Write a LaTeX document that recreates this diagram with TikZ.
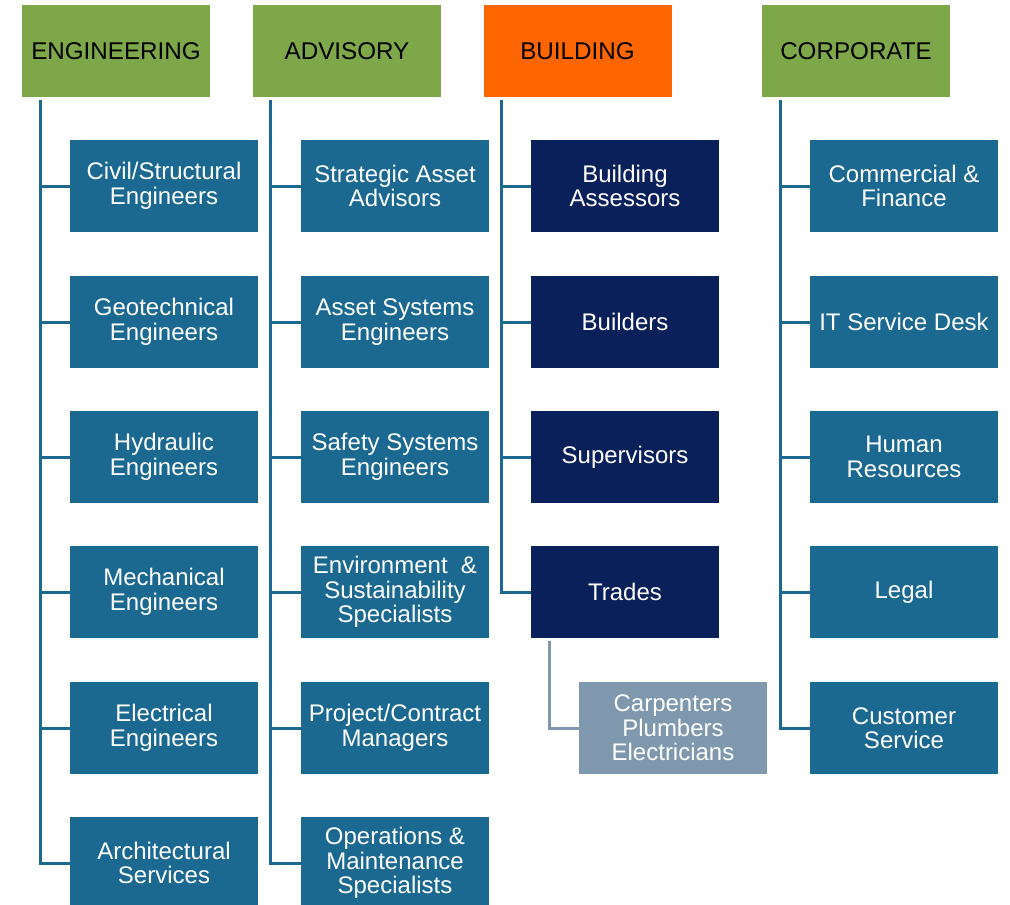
\documentclass[tikz,border=0pt]{standalone}
\usepackage{fontspec}
\setmainfont{Liberation Sans}
\definecolor{hdgreen}{HTML}{7EA74A}
\definecolor{hdorange}{HTML}{FF6600}
\definecolor{teal}{HTML}{1B6890}
\definecolor{navy}{HTML}{0A205B}
\definecolor{lightbox}{HTML}{7F98AE}
\tikzset{
  hdr/.style={draw=none, fill=hdgreen, minimum width=188pt, minimum height=92pt, inner sep=0pt, text=black, font=\fontsize{24.2}{24.5}\selectfont},
  kid/.style={draw=none, fill=teal, minimum width=188pt, minimum height=92pt, inner sep=0pt, text=white, align=center, font=\fontsize{24}{24.5}\selectfont},
  navykid/.style={kid, fill=navy},
  subkid/.style={kid, fill=lightbox},
  conn/.style={draw=teal, line width=3pt, line join=miter},
  subconn/.style={draw=lightbox, line width=3pt, line join=miter},
}
\begin{document}
\begin{tikzpicture}[x=1pt, y=-1pt]
\useasboundingbox (0,0) rectangle (1010,905);
\clip (0,0) rectangle (1010,905);
% headers
\node[hdr] (eng) at (116,51) {ENGINEERING};
\node[hdr] (adv) at (347,51) {ADVISORY};
\node[hdr, fill=hdorange] (bld) at (577.5,51) {BUILDING};
\node[hdr] (cor) at (856,51) {CORPORATE};
% engineering
\node[kid] (e1) at (164,186) {Civil/Structural\\Engineers};
\node[kid] (e2) at (164,322) {Geotechnical\\Engineers};
\node[kid] (e3) at (164,457) {Hydraulic\\Engineers};
\node[kid] (e4) at (164,592) {Mechanical\\Engineers};
\node[kid] (e5) at (164,728) {Electrical\\Engineers};
\node[kid] (e6) at (164,863) {Architectural\\Services};
% advisory
\node[kid] (a1) at (395,186) {Strategic Asset\\Advisors};
\node[kid] (a2) at (395,322) {Asset Systems\\Engineers};
\node[kid] (a3) at (395,457) {Safety Systems\\Engineers};
\node[kid] (a4) at (395,592) {Environment \ \&\\Sustainability\\Specialists};
\node[kid] (a5) at (395,728) {Project/Contract\\Managers};
\node[kid] (a6) at (395,863) {Operations \&\\Maintenance\\Specialists};
% building
\node[navykid] (b1) at (625,186) {Building\\Assessors};
\node[navykid] (b2) at (625,322) {Builders};
\node[navykid] (b3) at (625,457) {Supervisors};
\node[navykid] (b4) at (625,592) {Trades};
\node[subkid] (b5) at (673,728) {Carpenters\\Plumbers\\Electricians};
% corporate
\node[kid] (c1) at (904,186) {Commercial \&\\Finance};
\node[kid] (c2) at (904,322) {IT Service Desk};
\node[kid] (c3) at (904,457) {Human\\Resources};
\node[kid] (c4) at (904,592) {Legal};
\node[kid] (c5) at (904,728) {Customer\\Service};
% trunk tops
\coordinate (e0) at (40,100);
\coordinate (a0) at (270,100);
\coordinate (b0) at (501,100);
\coordinate (c0) at (780,100);
\coordinate (t0) at (549,641);
% connectors
\draw[conn] (e0) |- (e6.west);
\foreach \k in {1,...,5} \draw[conn] (e0 |- e\k.west) -- (e\k.west);
\draw[conn] (a0) |- (a6.west);
\foreach \k in {1,...,5} \draw[conn] (a0 |- a\k.west) -- (a\k.west);
\draw[conn] (b0) |- (b4.west);
\foreach \k in {1,...,3} \draw[conn] (b0 |- b\k.west) -- (b\k.west);
\draw[conn] (c0) |- (c5.west);
\foreach \k in {1,...,4} \draw[conn] (c0 |- c\k.west) -- (c\k.west);
\draw[subconn] (t0) |- (b5.west);
\end{tikzpicture}
\end{document}
